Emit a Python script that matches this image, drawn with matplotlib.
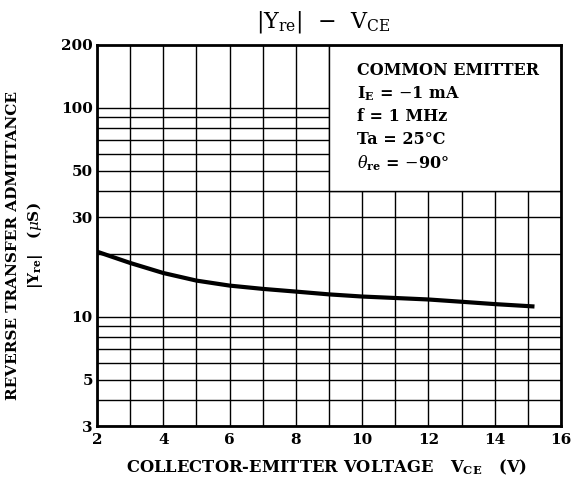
import matplotlib
matplotlib.use("Agg")
import matplotlib.pyplot as plt
from matplotlib.patches import Rectangle

plt.rcParams["font.family"] = ["DejaVu Serif"]
plt.rcParams["mathtext.fontset"] = "dejavuserif"

# curve
vce = [2, 3, 4, 5, 6, 7, 8, 9, 10, 11, 12, 13, 14, 15.2]
yre = [20.5, 18.1, 16.2, 14.9, 14.1, 13.6, 13.2, 12.8, 12.5, 12.3, 12.1, 11.8, 11.5, 11.2]

x_ticks = [2, 4, 6, 8, 10, 12, 14, 16]
y_ticks = [3, 5, 10, 30, 50, 100, 200]
h_grid = [3, 4, 5, 6, 7, 8, 9, 10, 20, 30, 40, 50, 60, 70, 80, 90, 100]
v_grid = list(range(2, 17))

cond_lines = [
    "COMMON EMITTER",
    r"I$_\mathbf{E}$ = $-$1 mA",
    "f = 1 MHz",
    "Ta = 25°C",
    r"$\theta_\mathbf{re}$ = $-$90°",
]

fig = plt.figure(figsize=(5.71, 4.88), dpi=100)
ax = fig.add_axes([97 / 571, 62 / 488, 464 / 571, 381 / 488])
ax.set_yscale("log")
ax.set_xlim(2, 16)
ax.set_ylim(3, 200)

for v in v_grid:
    ax.axvline(v, color="black", lw=1.0, zorder=1)
for h in h_grid:
    ax.axhline(h, color="black", lw=1.0, zorder=1)

# white box holding the conditions
ax.add_patch(Rectangle((9, 40), 7, 160, facecolor="white", edgecolor="black",
                       lw=1.0, zorder=2))
for i, s in enumerate(cond_lines):
    ax.text(0.560, 0.934 - i * 0.061, s, transform=ax.transAxes, fontsize=11.5,
            fontweight="bold", va="center", ha="left", zorder=3)

ax.plot(vce, yre, color="black", lw=3.0, zorder=4, solid_capstyle="butt")

ax.set_xticks(x_ticks)
ax.set_xticklabels([str(t) for t in x_ticks])
ax.set_yticks(y_ticks)
ax.set_yticklabels([str(t) for t in y_ticks])
ax.minorticks_off()
ax.tick_params(length=0, labelsize=11)
ax.tick_params(axis="y", pad=3)
ax.tick_params(axis="x", pad=5)
for lab in ax.get_xticklabels() + ax.get_yticklabels():
    lab.set_fontweight("bold")
for sp in ax.spines.values():
    sp.set_linewidth(2.0)
    sp.set_zorder(5)

fig.text(323 / 571, 1 - 22 / 488, r"|Y$_\mathrm{re}$|  $-$  V$_\mathrm{CE}$",
         fontsize=16, ha="center", va="center")
fig.text(327 / 571, 1 - 467 / 488,
         r"COLLECTOR-EMITTER VOLTAGE   V$_\mathbf{CE}$   (V)",
         fontsize=11.8, fontweight="bold", ha="center", va="center")
fig.text(13 / 571, 1 - 245 / 488, "REVERSE TRANSFER ADMITTANCE", fontsize=11,
         fontweight="bold", rotation=90, ha="center", va="center")
fig.text(35 / 571, 1 - 246 / 488, r"|Y$_\mathbf{re}$|   ($\mu$S)", fontsize=11,
         fontweight="bold", rotation=90, ha="center", va="center")

fig.savefig("out.png", dpi=100)
